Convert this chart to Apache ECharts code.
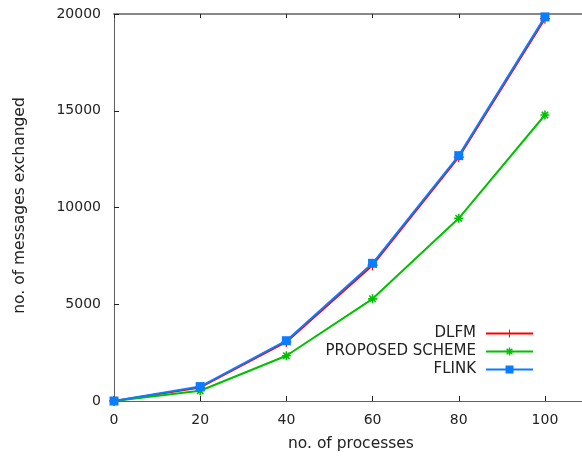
<!DOCTYPE html>
<html>
<head>
<meta charset="utf-8">
<script src="https://cdn.jsdelivr.net/npm/echarts@6/dist/echarts.min.js"></script>
<style>
  html, body { margin: 0; padding: 0; background: #fff; }
  #chart { width: 582px; height: 459px; }
</style>
</head>
<body>
<div id="chart"></div>
<script>
const processes = [0, 20, 40, 60, 80, 100]
const dlfm = [0, 700, 3050, 7020, 12600, 19760]
const proposed = [0, 530, 2340, 5280, 9440, 14780]
const flink = [0, 745, 3115, 7115, 12680, 19850]

const font = 'DejaVu Sans'
const textColor = '#222'
const axisColor = '#606060'

// gnuplot-like point types
const plusIcon = 'path://M0,4.4h10v1.2h-10z M4.4,0h1.2v10h-1.2z'
const starIcon = 'path://M4,0h2v3.2l2.3-2.3 1.4,1.4-2.3,2.3h3.2v2h-3.2l2.3,2.3-1.4,1.4-2.3-2.3v3.2h-2v-3.2l-2.3,2.3-1.4-1.4 2.3-2.3h-3.2v-2h3.2l-2.3-2.3 1.4-1.4 2.3,2.3z'

function pairs(vals) {
  return processes.map((p, i) => [p, vals[i]])
}

function lineSeries(name, vals, color, symbol, size) {
  return {
    name: name,
    type: 'line',
    data: pairs(vals),
    symbol: symbol,
    symbolSize: size,
    showAllSymbol: true,
    lineStyle: { width: 2, color: color },
    itemStyle: { color: color },
    emphasis: { disabled: true },
    animation: false
  }
}

const chart = echarts.init(document.getElementById('chart'))
chart.setOption({
  animation: false,
  textStyle: { fontFamily: font },
  grid: { left: 114, top: 14, bottom: 58, right: 0 },
  legend: {
    orient: 'vertical',
    right: 43,
    top: 321,
    align: 'right',
    itemWidth: 47,
    itemHeight: 10,
    itemGap: 3,
    textStyle: { fontFamily: font, fontSize: 15, color: textColor, padding: [0, 5, 0, 0] },
    data: ['DLFM', 'PROPOSED SCHEME', 'FLINK']
  },
  graphic: [{
    type: 'text',
    left: 288,
    top: 436,
    style: { text: 'no. of processes', font: '15.5px ' + font, fill: textColor }
  }],
  xAxis: [{
    type: 'value',
    min: 0,
    max: 108.6,
    interval: 20,
    axisLine: { lineStyle: { color: axisColor, width: 1 } },
    axisTick: { inside: true, length: 5, lineStyle: { color: '#222' } },
    axisLabel: { fontSize: 14, color: textColor, margin: 12, showMaxLabel: false },
    splitLine: { show: false }
  }, {
    type: 'value',
    position: 'top',
    min: 0,
    max: 108.6,
    interval: 20,
    axisLine: { lineStyle: { color: '#888', width: 2 } },
    axisTick: { inside: true, length: 4, lineStyle: { color: '#222' } },
    axisLabel: { show: false },
    splitLine: { show: false }
  }],
  yAxis: {
    type: 'value',
    min: 0,
    max: 20000,
    interval: 5000,
    name: 'no. of messages exchanged',
    nameLocation: 'middle',
    nameGap: 86,
    nameTextStyle: { fontSize: 15.5, color: textColor, fontFamily: font, padding: [0, 0, 0, 4] },
    axisLine: { show: true, lineStyle: { color: axisColor, width: 1 } },
    axisTick: { show: true, inside: true, length: 5, lineStyle: { color: '#222' } },
    axisLabel: { fontSize: 14, color: textColor, margin: 13, formatter: v => String(v) },
    splitLine: { show: false }
  },
  series: [
    lineSeries('DLFM', dlfm, '#ff0000', plusIcon, 10),
    lineSeries('PROPOSED SCHEME', proposed, '#00c000', starIcon, 9),
    lineSeries('FLINK', flink, '#0a7cff', 'rect', 9)
  ]
})
</script>
</body>
</html>
